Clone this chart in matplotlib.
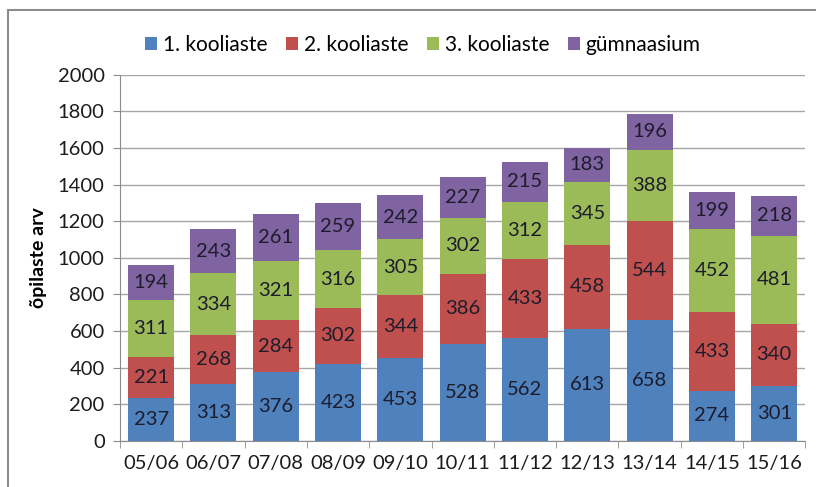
import matplotlib
matplotlib.use("Agg")
import matplotlib.pyplot as plt
import numpy as np
from matplotlib.patches import Rectangle

years = ["05/06", "06/07", "07/08", "08/09", "09/10", "10/11",
         "11/12", "12/13", "13/14", "14/15", "15/16"]
level1 = [237, 313, 376, 423, 453, 528, 562, 613, 658, 274, 301]
level2 = [221, 268, 284, 302, 344, 386, 433, 458, 544, 433, 340]
level3 = [311, 334, 321, 316, 305, 302, 312, 345, 388, 452, 481]
gymn = [194, 243, 261, 259, 242, 227, 215, 183, 196, 199, 218]

series = [("1. kooliaste", level1, "#4F81BD"),
          ("2. kooliaste", level2, "#C0504D"),
          ("3. kooliaste", level3, "#9BBB59"),
          ("gümnaasium", gymn, "#8064A2")]

plt.rcParams["font.family"] = ["Lato", "DejaVu Sans"]

fig = plt.figure(figsize=(8.16, 4.87), dpi=100)
ax = fig.add_axes([0.147, 0.0945, 0.840, 0.752])

# outer chart frame (screenshot border)
fig.patches.append(Rectangle((8 / 816, -0.05), 1.0, 1 - 10 / 487 + 0.05,
                             transform=fig.transFigure, fill=False,
                             edgecolor="#8c8c8c", linewidth=1.5))

x = np.arange(len(years))
bottom = np.zeros(len(years))
for name, vals, color in series:
    vals = np.array(vals, dtype=float)
    ax.bar(x, vals, 0.74, bottom=bottom, color=color, label=name, zorder=3)
    for xi, b, v in zip(x, bottom, vals):
        ax.text(xi, b + v / 2, f"{int(v)}", ha="center", va="center",
                fontsize=14.5, color="#1c1c2c", zorder=4)
    bottom += vals

ax.set_xlim(-0.5, len(years) - 0.5)
ax.set_ylim(0, 2000)
ax.set_yticks(np.arange(0, 2001, 200))
ax.set_xticks(x)
ax.set_xticklabels(years)
ax.set_xticks(np.arange(-0.5, len(years), 1), minor=True)
ax.tick_params(axis="x", which="major", length=0, labelsize=14.5, pad=10, labelcolor="#1c1c1c")
ax.tick_params(axis="x", which="minor", length=5, color="#8c8c8c")
ax.tick_params(axis="y", length=5, color="#8c8c8c", labelsize=14.5, pad=6, labelcolor="#1c1c1c")
ax.grid(axis="y", color="#a6a6a6", linewidth=1, zorder=0)
for s in ["top", "right"]:
    ax.spines[s].set_visible(False)
for s in ["left", "bottom"]:
    ax.spines[s].set_color("#8c8c8c")
ax.set_ylabel("õpilaste arv", fontsize=14, fontweight="bold", labelpad=8)

fig.legend(loc="center", bbox_to_anchor=(423 / 816, 1 - 45 / 487), ncol=4, frameon=False,
           fontsize=15, handlelength=0.55, handleheight=0.55, handletextpad=0.3,
           columnspacing=0.9)

fig.savefig("out.png", dpi=100)
